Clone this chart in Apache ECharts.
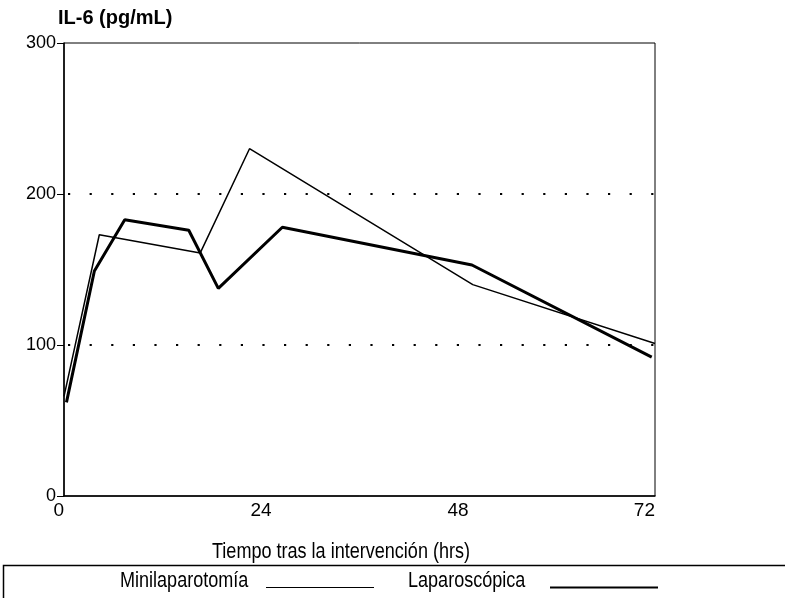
<!DOCTYPE html>
<html>
<head>
<meta charset="utf-8">
<script src="https://cdn.jsdelivr.net/npm/echarts@6/dist/echarts.min.js"></script>
<style>
html,body{margin:0;padding:0;background:#fff;}
#c{width:785px;height:598px;}
</style>
</head>
<body>
<div id="c"></div>
<script>
// Data (hours after intervention, IL-6 pg/mL)
var seriesNames = ['Minilaparotomía', 'Laparoscópica'];
var miniHours = [0, 4.3, 16.6, 22.6, 49.8, 72];
var miniValues = [66, 173, 161, 230, 140, 101];
var laparoHours = [0.3, 3.7, 7.4, 15.2, 18.8, 26.6, 49.7, 71.6];
var laparoValues = [62, 149, 183, 176, 137.5, 178, 153, 92];
var xTicks = [0, 24, 48, 72];
var yTicks = [0, 100, 200, 300];
var yTitle = 'IL-6 (pg/mL)';
var xTitle = 'Tiempo tras la intervención (hrs)';

function pairs(xs, ys) { return xs.map(function (x, i) { return [x, ys[i]]; }); }

var FONT = "'Liberation Sans',Arial,sans-serif";
var NARROW_FONT = "22px " + FONT;
var chart = echarts.init(document.getElementById('c'), null, {renderer: 'canvas'});
chart.setOption({
  backgroundColor: '#fff',
  animation: false,
  title: {
    text: yTitle, left: 53, top: 3,
    textStyle: {fontFamily: FONT, fontWeight: 'bold', fontSize: 20, color: '#000'}
  },
  grid: {left: 64, top: 43, right: 130, bottom: 102, show: true, borderColor: '#000', borderWidth: 1, backgroundColor: 'transparent'},
  xAxis: {
    type: 'value', min: xTicks[0], max: xTicks[xTicks.length - 1], interval: 24,
    axisLine: {show: true, lineStyle: {color: '#000', width: 1.5}},
    axisTick: {show: false},
    splitLine: {show: false},
    axisLabel: {color: '#000', fontFamily: FONT, fontSize: 19, margin: 5, alignMinLabel: 'right', alignMaxLabel: 'right'}
  },
  yAxis: {
    type: 'value', min: yTicks[0], max: yTicks[yTicks.length - 1], interval: 100,
    axisLine: {show: true, lineStyle: {color: '#000', width: 1.5}},
    axisTick: {show: true, length: 7, lineStyle: {color: '#000', width: 1}},
    axisLabel: {color: '#000', fontFamily: FONT, fontSize: 18, margin: 8},
    splitLine: {show: true, showMinLine: false, showMaxLine: false,
      lineStyle: {color: '#000', width: 2.2, type: [2.2, 19.4], dashOffset: -4}}
  },
  series: [
    {name: seriesNames[0], type: 'line', data: pairs(miniHours, miniValues), symbol: 'none',
     lineStyle: {color: '#000', width: 1.5}},
    {name: seriesNames[1], type: 'line', data: pairs(laparoHours, laparoValues), symbol: 'none',
     lineStyle: {color: '#000', width: 3}}
  ],
  graphic: [
    // x-axis title (narrow typeface imitation)
    {type: 'text', x: 341, y: 563, scaleX: 0.82,
     style: {text: xTitle, fill: '#000', font: NARROW_FONT, textAlign: 'center', textVerticalAlign: 'bottom'}},
    // legend box
    {type: 'rect', shape: {x: 3.5, y: 565.5, width: 800, height: 40}, style: {fill: 'none', stroke: '#000', lineWidth: 1.5}},
    {type: 'text', x: 120, y: 592, scaleX: 0.82,
     style: {text: seriesNames[0], fill: '#000', font: NARROW_FONT, textVerticalAlign: 'bottom'}},
    {type: 'line', shape: {x1: 266, y1: 587.5, x2: 374, y2: 587.5}, style: {stroke: '#000', lineWidth: 1.2}},
    {type: 'text', x: 408, y: 592, scaleX: 0.82,
     style: {text: seriesNames[1], fill: '#000', font: NARROW_FONT, textVerticalAlign: 'bottom'}},
    {type: 'line', shape: {x1: 550, y1: 587.5, x2: 658, y2: 587.5}, style: {stroke: '#000', lineWidth: 2}}
  ]
});
</script>
</body>
</html>
